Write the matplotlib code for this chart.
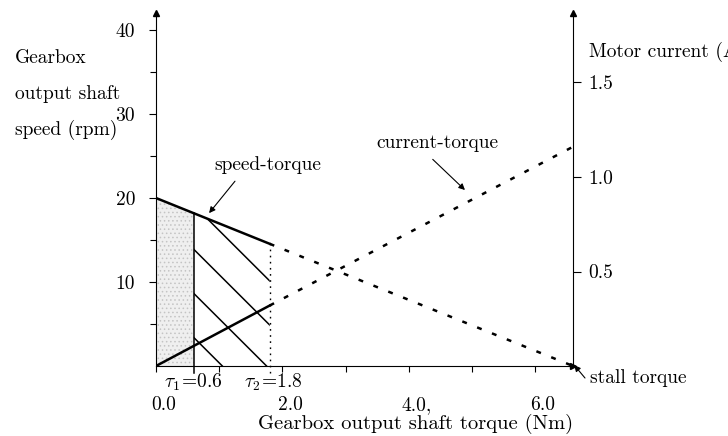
import numpy as np
import matplotlib
matplotlib.use("Agg")
import matplotlib.pyplot as plt
from matplotlib.patches import Polygon
from matplotlib.transforms import ScaledTranslation

plt.rcParams['font.family'] = ['cmr10', 'DejaVu Serif']
plt.rcParams['mathtext.fontset'] = 'cm'
plt.rcParams['axes.formatter.use_mathtext'] = True
plt.rcParams['lines.scale_dashes'] = False
plt.rcParams['hatch.linewidth'] = 0.6

# ---- data ----
torque_ticks = [0, 1, 2, 3, 4, 5, 6]
torque_tick_labels = ['0.0', '', '2.0', '', '4.0,', '', '6.0']
speed_ticks = [10, 20, 30, 40]
speed_minor_ticks = [5, 15, 25, 35]
current_ticks = [0.5, 1.0, 1.5]
current_tick_labels = ['0.5', '1.0', '1.5']

tau1 = 0.6
tau2 = 1.8
stall_torque = 6.6
speed_line_torque = [0.0, stall_torque]
speed_line_rpm = [20.0, 0.0]
current_line_torque = [0.0, 1.8, 6.6]
current_line_amp = [0.0, 0.32, 1.16]
hatch_zero_torque = [1.05, 1.75, 2.45, 3.15]
hatch_slope = -7.5  # rpm per Nm

fs = 14
W, H = 728, 436
fig = plt.figure(figsize=(W / 100, H / 100), dpi=100)
x0, x1, yb, yt = 156, 573, 366, 13
ax = fig.add_axes([x0 / W, (H - yb) / H, (x1 - x0) / W, (yb - yt) / H])
ax.set_xlim(0, 6.6)
ax.set_ylim(0, (yb - yt) / 8.4)
ax2 = ax.twinx()
ax2.set_ylim(0, (yb - yt) / 189.0)

for a in (ax, ax2):
    a.spines['top'].set_visible(False)
    for s in a.spines.values():
        s.set_linewidth(0.8)
ax.spines['right'].set_visible(False)
ax2.spines['left'].set_visible(False)
ax2.spines['bottom'].set_visible(False)

def spd(t):
    return np.interp(t, speed_line_torque, speed_line_rpm)

# stippled region 0..tau1
ts = np.linspace(0, tau1, 20)
ax.fill_between(ts, 0, spd(ts), facecolor='#efefef', edgecolor='#c4c4c4',
                hatch='....', linewidth=0, zorder=1)

# hatched region tau1..tau2
poly = Polygon([(tau1, 0), (tau1, spd(tau1)), (tau2, spd(tau2)), (tau2, 0)],
               closed=True, transform=ax.transData, facecolor='none', edgecolor='none')
ax.add_patch(poly)
for tz in hatch_zero_torque:
    tt = np.array([tau1 - 0.1, tz])
    ln, = ax.plot(tt, hatch_slope * (tt - tz), color='k', lw=1.1, zorder=2)
    ln.set_clip_path(poly)

# vertical boundaries
ax.plot([tau1, tau1], [-0.8, spd(tau1)], color='k', lw=1.1, clip_on=False, zorder=3)
ax.plot([tau2, tau2], [-0.8, spd(tau2)], color='k', lw=1.0, ls=(0, (1.2, 3.2)),
        clip_on=False, zorder=3)

# speed-torque line
t_solid = [0, tau2]
ax.plot(t_solid, spd(t_solid), color='k', lw=1.8, zorder=4)
t_dash = [tau2, stall_torque]
ax.plot(t_dash, spd(t_dash), color='k', lw=1.8, ls=(0, (3.5, 8)), zorder=4)

# current-torque line (right axis)
ct = np.array(current_line_torque)
ca = np.array(current_line_amp)
ax2.plot(ct[:2], ca[:2], color='k', lw=1.8, zorder=4)
ax2.plot(ct[1:], ca[1:], color='k', lw=1.8, ls=(0, (3.5, 8)), zorder=4)

# ticks
ax.set_xticks(torque_ticks)
ax.set_xticklabels(torque_tick_labels, fontsize=fs)
ax.tick_params(axis='x', direction='out', length=4, width=0.8, pad=18)
for lab in ax.get_xticklabels():
    lab.set_transform(lab.get_transform() + ScaledTranslation(0.08, 0, fig.dpi_scale_trans))
ax.set_yticks(speed_ticks)
ax.set_yticks(speed_minor_ticks, minor=True)
ax.set_yticklabels([str(v) for v in speed_ticks], fontsize=fs)
ax.tick_params(axis='y', which='major', direction='out', length=5, width=0.8, pad=10)
ax.tick_params(axis='y', which='minor', direction='out', length=4, width=0.8)
ax2.set_yticks(current_ticks)
ax2.set_yticklabels(current_tick_labels, fontsize=fs)
ax2.tick_params(axis='y', direction='out', length=6, width=0.8, pad=5)

# axis arrows
ax.plot(0, 1, marker='^', color='k', ms=5, transform=ax.transAxes, clip_on=False)
ax.plot(1, 1, marker='^', color='k', ms=5, transform=ax.transAxes, clip_on=False)
ax.plot(1, 0, marker='>', color='k', ms=5, transform=ax.transAxes, clip_on=False)

# tau labels
ax.text(tau1, -1.95, r'$\tau_1\!=\!$0.6', ha='center', va='center', fontsize=fs)
ax.text(tau2 + 0.05, -1.95, r'$\tau_2\!=\!$1.8', ha='center', va='center', fontsize=fs)

# axis titles
def fx(px):
    return px / W
def fy(py):
    return 1 - py / H

fig.text(fx(15), fy(58), 'Gearbox', ha='left', va='center', fontsize=fs)
fig.text(fx(15), fy(94), 'output shaft', ha='left', va='center', fontsize=fs)
fig.text(fx(15), fy(130), 'speed (rpm)', ha='left', va='center', fontsize=fs)
fig.text(fx(589), fy(52), 'Motor current (A)', ha='left', va='center', fontsize=fs)
fig.text(fx(416), fy(424), 'Gearbox output shaft torque (Nm)', ha='center', va='center',
         fontsize=14.8)

# annotations
arrow = dict(arrowstyle='-|>', lw=0.8, color='k', mutation_scale=9, shrinkA=0, shrinkB=0)
ax.text(1.77, 23.9, 'speed-torque', ha='center', va='center', fontsize=fs)
ax.annotate('', xy=(0.84, 18.2), xytext=(1.25, 22.0), arrowprops=arrow)
ax.text(4.45, 26.5, 'current-torque', ha='center', va='center', fontsize=fs)
ax.annotate('', xy=(4.89, 20.95), xytext=(4.38, 24.6), arrowprops=arrow)
ax.text(6.87, -1.43, 'stall torque', ha='left', va='center', fontsize=fs)
ax.annotate('', xy=(6.62, 0.1), xytext=(6.79, -1.43), arrowprops=arrow,
            annotation_clip=False)

fig.savefig('out.png', dpi=100)
